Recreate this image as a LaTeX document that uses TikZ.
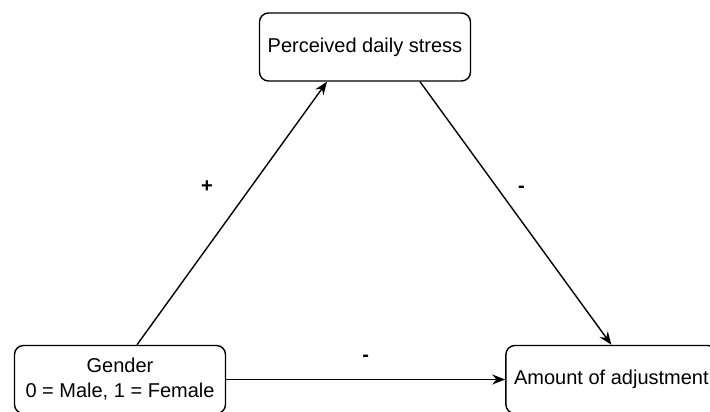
\documentclass[tikz,border=0pt]{standalone}
\usepackage{fontspec}
\setmainfont{Liberation Sans}
\usetikzlibrary{positioning, arrows.meta}

\begin{document}
\begin{tikzpicture}[
    x=1pt, y=-1pt,
    font=\fontsize{20pt}{25pt}\selectfont,
    box/.style={draw, line width=1.4pt, rounded corners=9pt, minimum width=211pt, minimum height=68pt, align=center, inner sep=2pt},
    arr/.style={-{Stealth[length=13pt, width=10pt]}, line width=1.4pt},
    sign/.style={font=\fontsize{20pt}{24pt}\selectfont\bfseries}]
    \useasboundingbox (0,0) rectangle (710,412);
    \node[box]                      (stress) at (365,47) {Perceived daily stress};
    \node[box]                      (gender) at (120,379.5) {Gender\\0 = Male, 1 = Female};
    \node[box, right=279pt of gender] (adjust) {Amount of adjustment};
    \draw[arr] ([xshift=17pt]gender.north) -- node[sign, pos=0.6, xshift=-44pt] {+} ([xshift=-38pt]stress.south);
    \draw[arr] ([xshift=55pt]stress.south) -- node[sign, pos=0.41, xshift=23pt] {-} (adjust.north);
    \draw[arr] (gender) -- node[sign, midway, yshift=21pt] {-} (adjust);
  \end{tikzpicture}
\end{document}
